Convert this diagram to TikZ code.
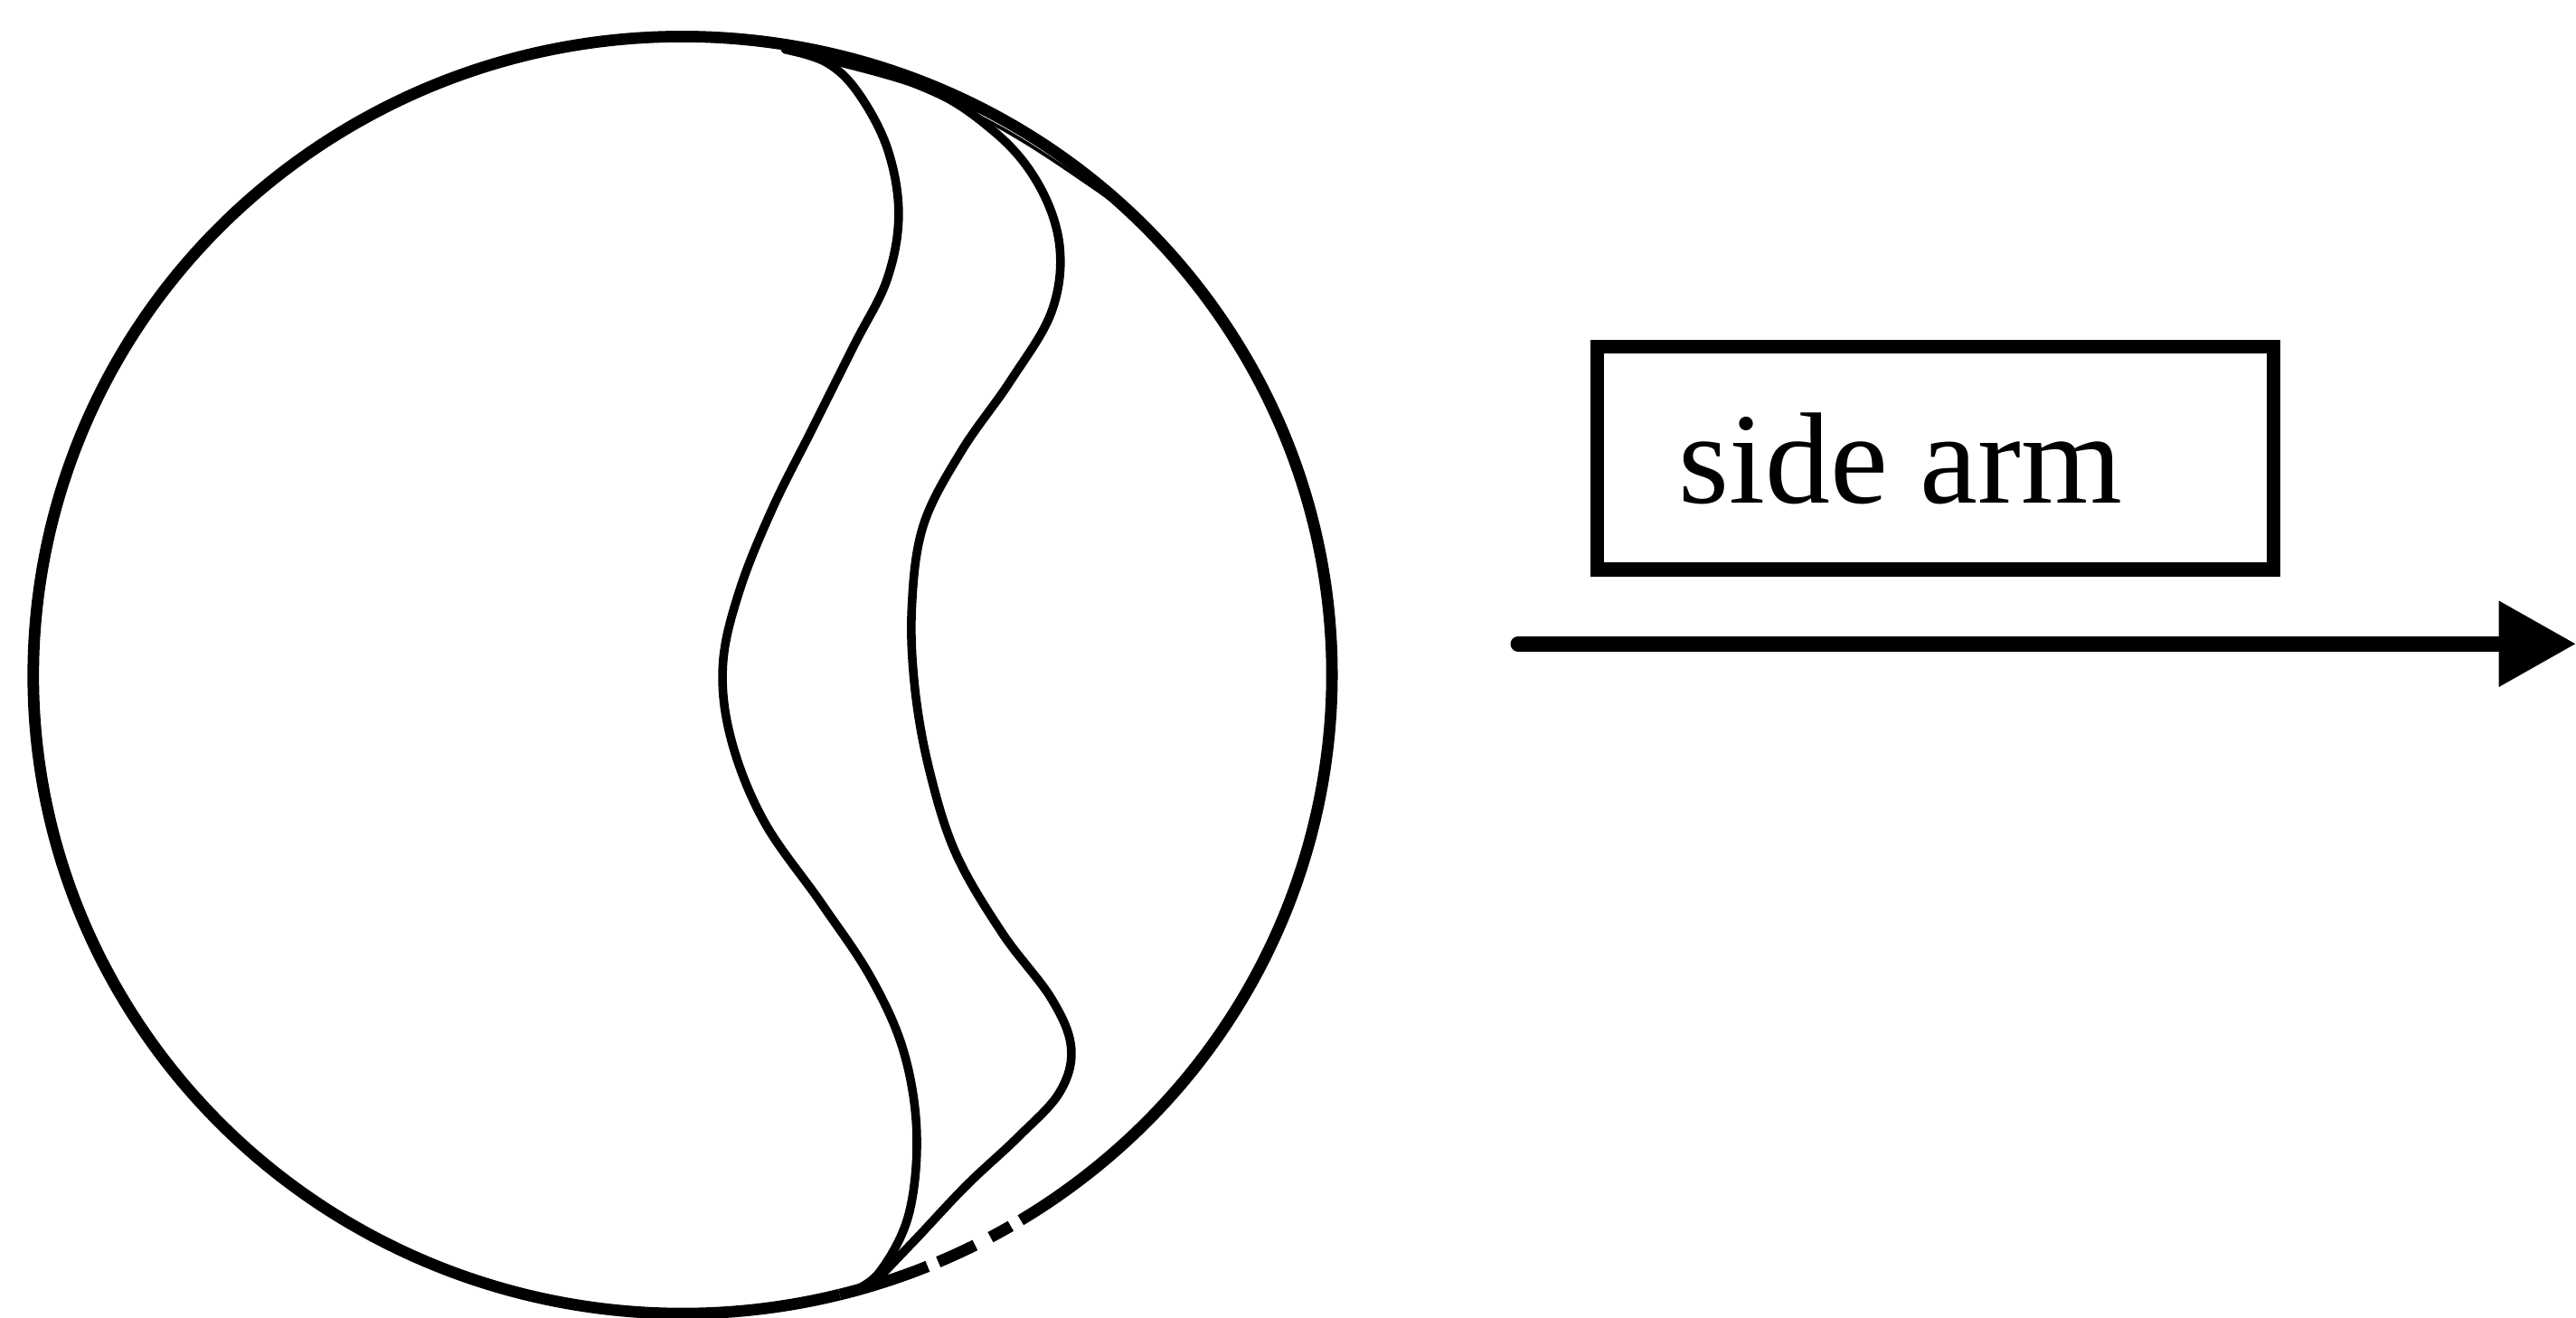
\documentclass[tikz,border=0pt]{standalone}
\usepackage{fontspec}
\setmainfont{Liberation Serif}
\usetikzlibrary{arrows.meta}
\tikzset{
  outline/.style={line width=2pt, line join=round},
  wave/.style={line width=1.5pt, line cap=round, line join=round},
  thinline/.style={line width=0.6pt},
  labelbox/.style={draw, line width=2.4pt, minimum width=4.115cm, minimum height=1.355cm, inner sep=0pt},
  labeltext/.style={inner sep=0pt, font=\fontsize{22.5}{26}\selectfont},
  flow/.style={line width=2.6pt, line cap=round, -{Triangle[length=0.47cm, width=0.5cm]}}
}
\begin{document}
\begin{tikzpicture}[x=0.01cm, y=0.01cm]
\useasboundingbox (0,0) rectangle (1568,802);
% ball outline
\coordinate (c) at (415.5,391);
\draw[outline] (c) ++(-55:3.95cm and 3.885cm) arc[start angle=-55, end angle=284, x radius=3.95cm, y radius=3.885cm];
\draw[outline, dash pattern=on 16pt off 2pt on 7pt off 3pt on 4pt off 2pt] (c) ++(284:3.95cm and 3.885cm) arc[start angle=284, end angle=305, x radius=3.95cm, y radius=3.885cm];
% inner S-curves
\draw[wave] plot[smooth, tension=0.6] coordinates {(478,772) (503,764) (522,746) (540,712) (547,672) (540,632) (520,592) (495,542) (470,492) (450,442) (440,397) (445,352) (465,302) (500,252) (530,207) (550,162) (558,112) (553,62) (535,27) (517,15)};
\draw[wave] plot[smooth, tension=0.6] coordinates {(478,772) (560,750) (605,722) (632,690) (645,652) (640,612) (615,570) (585,527) (562,482) (555,432) (557,382) (566,332) (582,282) (610,234) (640,194) (652,164) (645,137) (620,110) (588,80) (555,45) (530,20) (517,15)};
% thin line hugging the outline at the top
\draw[thinline] plot[smooth, tension=0.6] coordinates {(483.8,772) (549.1,752.5) (610.3,723.5) (667.2,686.7) (700,661.9)};
% label box and arrow
\node[labelbox] (box) at (1178,523) {};
\node[labeltext, anchor=base west] (lbl) at (1021,495.5) {side arm};
\coordinate (as) at (924,410);
\coordinate (ae) at (1568,410);
\draw[flow] (as) -- (ae);
\end{tikzpicture}
\end{document}
